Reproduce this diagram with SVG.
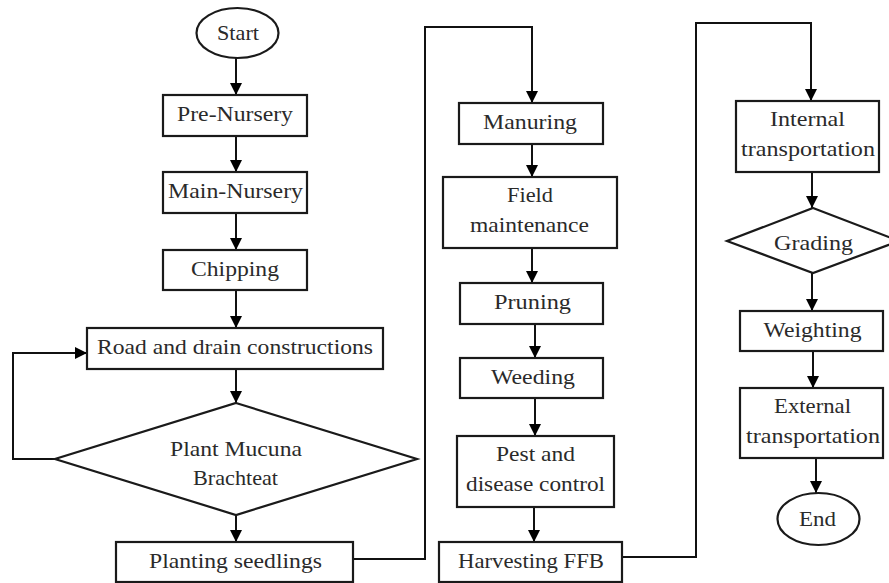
<svg xmlns="http://www.w3.org/2000/svg" width="889" height="583" viewBox="0 0 889 583">
<defs>
<marker id="ah" viewBox="0 0 12 12" refX="12" refY="6" markerWidth="12" markerHeight="12" markerUnits="userSpaceOnUse" orient="auto">
<path d="M0,0 L12,6 L0,12 Z" fill="#000"/>
</marker>
<style>
.n{fill:#fff;stroke:#1a1a1a;stroke-width:2.2}
.t{font-family:"Liberation Serif","Times New Roman",serif;font-size:21px;fill:#2a2a2a;text-anchor:middle}
.c{fill:none;stroke:#111;stroke-width:2}
</style>
</defs>
<rect width="889" height="583" fill="#fff"/>
<g id="connectors">
<path class="c" d="M236,58 V95" marker-end="url(#ah)"/>
<path class="c" d="M236,136 V172" marker-end="url(#ah)"/>
<path class="c" d="M236,213 V250" marker-end="url(#ah)"/>
<path class="c" d="M236,290 V328" marker-end="url(#ah)"/>
<path class="c" d="M236,369 V403" marker-end="url(#ah)"/>
<path class="c" d="M236,515 V542" marker-end="url(#ah)"/>
<path class="c" d="M55,459 H13 V353 H87" marker-end="url(#ah)"/>
<path class="c" d="M353,559 H425 V27 H532 V103" marker-end="url(#ah)"/>
<path class="c" d="M532,144 V177" marker-end="url(#ah)"/>
<path class="c" d="M532,248 V283" marker-end="url(#ah)"/>
<path class="c" d="M535,324 V358" marker-end="url(#ah)"/>
<path class="c" d="M535,398 V436" marker-end="url(#ah)"/>
<path class="c" d="M534,507 V542" marker-end="url(#ah)"/>
<path class="c" d="M622,557 H696 V23 H811 V101" marker-end="url(#ah)"/>
<path class="c" d="M812,172 V208" marker-end="url(#ah)"/>
<path class="c" d="M812,273 V311" marker-end="url(#ah)"/>
<path class="c" d="M813,351 V388" marker-end="url(#ah)"/>
<path class="c" d="M816,458 V493" marker-end="url(#ah)"/>
</g>
<g id="start"><ellipse class="n" cx="237.5" cy="33" rx="41" ry="25"/><text class="t" x="238" y="40" textLength="42" lengthAdjust="spacingAndGlyphs">Start</text></g>
<g id="pre-nursery"><rect class="n" x="163" y="95" width="144" height="41"/><text class="t" x="235" y="121" textLength="116" lengthAdjust="spacingAndGlyphs">Pre-Nursery</text></g>
<g id="main-nursery"><rect class="n" x="163" y="172" width="144" height="41"/><text class="t" x="235.5" y="198" textLength="135" lengthAdjust="spacingAndGlyphs">Main-Nursery</text></g>
<g id="chipping"><rect class="n" x="163" y="250" width="144" height="40"/><text class="t" x="235" y="276" textLength="88" lengthAdjust="spacingAndGlyphs">Chipping</text></g>
<g id="road"><rect class="n" x="87" y="328" width="296" height="41"/><text class="t" x="235" y="354" textLength="276" lengthAdjust="spacingAndGlyphs">Road and drain constructions</text></g>
<g id="mucuna"><polygon class="n" points="236,403 417,459 236,515 55,459"/><text class="t" x="236" y="456" textLength="132" lengthAdjust="spacingAndGlyphs">Plant Mucuna</text><text class="t" x="235.5" y="485" textLength="85" lengthAdjust="spacingAndGlyphs">Brachteat</text></g>
<g id="planting"><rect class="n" x="116" y="542" width="237" height="40"/><text class="t" x="235.5" y="568" textLength="173" lengthAdjust="spacingAndGlyphs">Planting seedlings</text></g>
<g id="manuring"><rect class="n" x="459" y="103" width="144" height="41"/><text class="t" x="530" y="129" textLength="94" lengthAdjust="spacingAndGlyphs">Manuring</text></g>
<g id="field"><rect class="n" x="443" y="177" width="174" height="71"/><text class="t" x="530" y="202" textLength="46" lengthAdjust="spacingAndGlyphs">Field</text><text class="t" x="529.5" y="232" textLength="119" lengthAdjust="spacingAndGlyphs">maintenance</text></g>
<g id="pruning"><rect class="n" x="460" y="283" width="143" height="41"/><text class="t" x="532.5" y="309" textLength="77" lengthAdjust="spacingAndGlyphs">Pruning</text></g>
<g id="weeding"><rect class="n" x="460" y="358" width="143" height="40"/><text class="t" x="533" y="384" textLength="84" lengthAdjust="spacingAndGlyphs">Weeding</text></g>
<g id="pest"><rect class="n" x="457" y="436" width="157" height="71"/><text class="t" x="535.5" y="461" textLength="79" lengthAdjust="spacingAndGlyphs">Pest and</text><text class="t" x="535.5" y="491" textLength="139" lengthAdjust="spacingAndGlyphs">disease control</text></g>
<g id="harvesting"><rect class="n" x="439" y="542" width="183" height="40"/><text class="t" x="531" y="568" textLength="146" lengthAdjust="spacingAndGlyphs">Harvesting FFB</text></g>
<g id="internal"><rect class="n" x="736" y="101" width="143" height="71"/><text class="t" x="807.5" y="126" textLength="75" lengthAdjust="spacingAndGlyphs">Internal</text><text class="t" x="808" y="156" textLength="134" lengthAdjust="spacingAndGlyphs">transportation</text></g>
<g id="grading"><polygon class="n" points="813,208 899,241 813,273 727,241"/><text class="t" x="813.5" y="250" textLength="79" lengthAdjust="spacingAndGlyphs">Grading</text></g>
<g id="weighting"><rect class="n" x="740" y="311" width="143" height="40"/><text class="t" x="812.5" y="337" textLength="98" lengthAdjust="spacingAndGlyphs">Weighting</text></g>
<g id="external"><rect class="n" x="740" y="388" width="143" height="70"/><text class="t" x="812.5" y="413" textLength="77" lengthAdjust="spacingAndGlyphs">External</text><text class="t" x="813" y="443" textLength="134" lengthAdjust="spacingAndGlyphs">transportation</text></g>
<g id="end"><ellipse class="n" cx="818.5" cy="519" rx="41" ry="26"/><text class="t" x="817.5" y="526" textLength="37" lengthAdjust="spacingAndGlyphs">End</text></g>
</svg>
